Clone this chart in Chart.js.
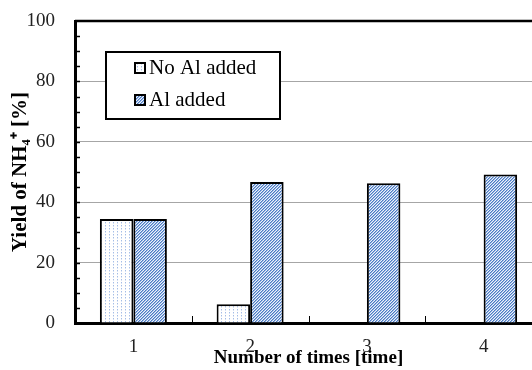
<!DOCTYPE html>
<html>
<head>
<meta charset="utf-8">
<script src="https://cdn.jsdelivr.net/npm/chart.js@4"></script>
<style>
  html, body { margin: 0; padding: 0; background: #fff; overflow: hidden; }
</style>
</head>
<body>
<canvas id="myChart" width="560" height="370"></canvas>
<script>
// data
var runs = ['1', '2', '3', '4'];
var noAlAdded = [34.4, 6.2, 0, 0];
var alAdded = [34.4, 46.7, 46.3, 49.2];
var seriesNames = ['No Al added', 'Al added'];
var yTicks = [0, 20, 40, 60, 80, 100];

var serif = "'Liberation Serif', 'Times New Roman', serif";

// little pixel patterns for the bar fills
function makePattern(w, h, paint) {
    var c = document.createElement('canvas');
    c.width = w;
    c.height = h;
    var g = c.getContext('2d');
    paint(g);
    return g.createPattern(c, 'repeat');
}

var dots = makePattern(4, 3, function (g) {
    g.fillStyle = '#ffffff';
    g.fillRect(0, 0, 4, 3);
    g.fillStyle = '#a4bde6';
    g.fillRect(1, 0, 1, 1);
    g.fillStyle = '#d6e1f3';
    g.fillRect(1, 1, 1, 1);
});

var hatch = makePattern(3, 3, function (g) {
    var shades = ['#4a7cc4', '#9bb6e2', '#eef3fb'];
    for (var x = 0; x < 3; x++) {
        for (var y = 0; y < 3; y++) {
            g.fillStyle = shades[(x + y) % 3];
            g.fillRect(x, y, 1, 1);
        }
    }
});

var fills = [dots, hatch];

// frame, inward ticks and the boxed legend
var extras = {
    id: 'extras',
    afterDraw: function (chart) {
        var ctx = chart.ctx;
        var area = chart.chartArea;
        var ys = chart.scales.y;
        var xs = chart.scales.x;
        ctx.save();

        ctx.strokeStyle = '#000';
        ctx.lineWidth = 1.5;
        for (var v = 5; v < 100; v += 5) {
            var py = Math.round(ys.getPixelForValue(v)) + 0.5;
            ctx.beginPath();
            ctx.moveTo(area.left, py);
            ctx.lineTo(area.left + 5, py);
            ctx.stroke();
        }
        ctx.lineWidth = 1;
        for (var i = 1; i < runs.length; i++) {
            var px = Math.round((xs.getPixelForValue(i - 1) + xs.getPixelForValue(i)) / 2) + 0.5;
            ctx.beginPath();
            ctx.moveTo(px, area.bottom);
            ctx.lineTo(px, area.bottom - 7);
            ctx.stroke();
        }

        ctx.lineWidth = 2.5;
        ctx.beginPath();
        ctx.moveTo(area.left, area.top);
        ctx.lineTo(area.right, area.top);
        ctx.lineTo(area.right, area.bottom);
        ctx.stroke();

        // legend box
        ctx.fillStyle = '#fff';
        ctx.fillRect(106, 52, 174, 67);
        ctx.lineWidth = 2;
        ctx.strokeRect(106, 52, 174, 67);
        ctx.font = '21px ' + serif;
        ctx.textBaseline = 'middle';
        seriesNames.forEach(function (name, k) {
            var top = 63 + k * 32;
            ctx.fillStyle = fills[k];
            ctx.fillRect(135, top, 10, 10);
            ctx.lineWidth = 2;
            ctx.strokeStyle = '#000';
            ctx.strokeRect(135, top, 10, 10);
            ctx.fillStyle = '#000';
            ctx.fillText(name, 149, top + 5);
        });
        ctx.restore();
    }
};

const data = {
    labels: runs,
    datasets: [{
        label: seriesNames[0],
        data: noAlAdded,
        backgroundColor: dots,
        borderColor: '#000',
        borderWidth: 2
    }, {
        label: seriesNames[1],
        data: alAdded,
        backgroundColor: hatch,
        borderColor: '#000',
        borderWidth: 2
    }]
};

const config = {
    type: 'bar',
    data: data,
    plugins: [extras],
    options: {
        responsive: false,
        animation: false,
        events: [],
        categoryPercentage: 0.574,
        barPercentage: 1,
        layout: { padding: { top: 21, right: 18, left: 0, bottom: 0 } },
        plugins: {
            legend: { display: false },
            tooltip: { enabled: false }
        },
        scales: {
            x: {
                grid: { display: true, color: 'transparent', drawTicks: false },
                border: { display: true, color: '#000', width: 3 },
                ticks: { color: '#222', padding: 13, font: { family: serif, size: 19 } },
                title: {
                    display: true,
                    text: 'Number of times [time]',
                    color: '#000',
                    padding: { top: 0, bottom: 1 },
                    font: { family: serif, size: 19, weight: 'bold' }
                },
                afterFit: function (s) { s.height = 47; }
            },
            y: {
                min: 0,
                max: 100,
                afterBuildTicks: function (s) {
                    s.ticks = yTicks.map(function (v) { return { value: v }; });
                },
                grid: {
                    drawTicks: true,
                    tickLength: 20,
                    tickColor: 'transparent',
                    lineWidth: 1,
                    color: function (c) {
                        var v = c.tick && c.tick.value;
                        return (v === 0 || v === 100) ? 'transparent' : '#a6a6a6';
                    }
                },
                border: { display: true, color: '#000', width: 3 },
                ticks: { color: '#222', padding: 0, font: { family: serif, size: 19 } },
                title: {
                    display: true,
                    text: 'Yield of NH\u2084\u207A [%]',
                    color: '#000',
                    padding: { top: 8, bottom: 0 },
                    font: { family: serif, size: 21, weight: 'bold' }
                },
                afterFit: function (s) { s.width = 75; }
            }
        }
    }
};

const myChart = new Chart(document.getElementById('myChart'), config);
</script>
</body>
</html>
